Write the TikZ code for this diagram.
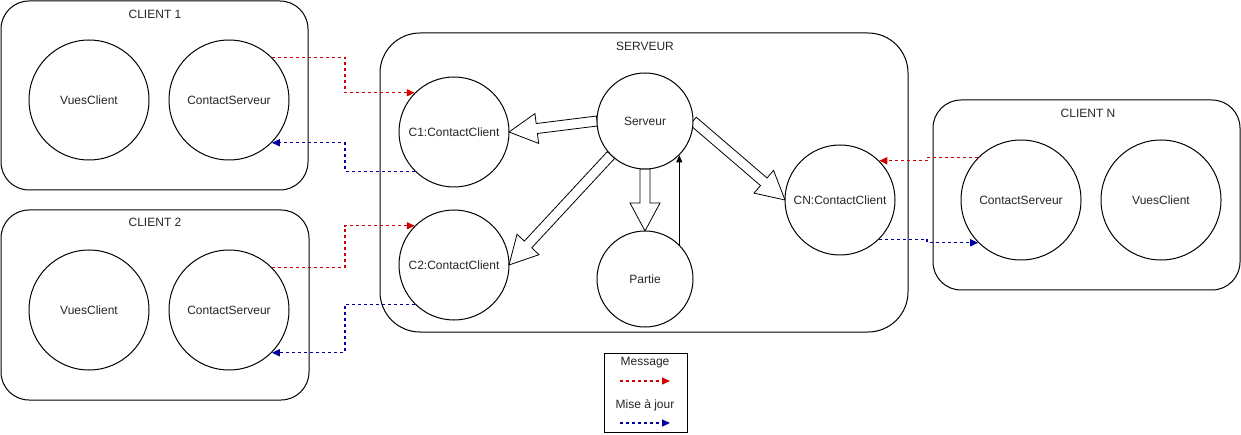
\documentclass[tikz,border=0pt]{standalone}
\usepackage{fontspec}
\setmainfont{Liberation Sans}
\usetikzlibrary{calc,arrows.meta}
\definecolor{msgred}{HTML}{D00000}
\definecolor{majblue}{HTML}{0000A0}
\tikzset{
  base/.style={font=\fontsize{12}{14}\selectfont, text=black!85},
  container/.style={draw=black, line width=1pt, fill=white, rectangle, inner sep=0pt},
  circ/.style={base, draw=black, line width=1pt, fill=white, circle, inner sep=0pt},
  bigc/.style={circ, minimum size=120pt},
  midc/.style={circ, minimum size=110pt},
  smallc/.style={circ, minimum size=96pt},
  title/.style={base, inner sep=0pt},
  fatarr/.style={draw=black, line width=0.8pt, fill=white, line join=miter},
  msg/.style={color=msgred, line width=1.4pt, dash pattern=on 3pt off 3pt, -{Triangle[length=8pt,width=7pt,sep=0pt]}},
  maj/.style={color=majblue, line width=1.4pt, dash pattern=on 3pt off 3pt, -{Triangle[length=8pt,width=7pt,sep=0pt]}},
}
\newcommand\fatarrow[2]{%
  \coordinate (fa-a) at (#1);
  \coordinate (fa-b) at (#2);
  \coordinate (fa-c) at ($(fa-b)!28pt!(fa-a)$);
  \draw[fatarr] ($(fa-a)!5pt!90:(fa-b)$) -- ($(fa-c)!5pt!90:(fa-b)$) -- ($(fa-c)!15pt!90:(fa-b)$)
    -- (fa-b) -- ($(fa-c)!15pt!-90:(fa-b)$) -- ($(fa-c)!5pt!-90:(fa-b)$) -- ($(fa-a)!5pt!-90:(fa-b)$) -- cycle;
}
\begin{document}
\begin{tikzpicture}[x=1pt,y=-1pt]
\useasboundingbox (0,0) rectangle (1241,435);
% containers
\node[container, rounded corners=28pt, minimum width=307pt, minimum height=189pt] (client1) at (154.5,95.5) {};
\node[container, rounded corners=28pt, minimum width=308pt, minimum height=190pt] (client2) at (155,305) {};
\node[container, rounded corners=40pt, minimum width=528pt, minimum height=299pt] (serveurbox) at (644,182.5) {};
\node[container, rounded corners=28pt, minimum width=307pt, minimum height=190pt] (clientN) at (1086.5,195) {};
\node[container, rounded corners=0pt, minimum width=83pt, minimum height=79pt] (legend) at (645.5,392.5) {};
% titles
\node[title] (t1) at (155,14) {CLIENT 1};
\node[title] (t2) at (155,222) {CLIENT 2};
\node[title] (ts) at (645,46) {SERVEUR};
\node[title] (tn) at (1088,113) {CLIENT N};
\node[title] (lmsg) at (645,363) {Message};
\node[title] (lmaj) at (645,405) {Mise à jour};
% circle centres
\coordinate (srvc) at (645,121);
\coordinate (c1c) at (454,132);
\coordinate (c2c) at (454,265);
\coordinate (cnc) at (840,200);
\coordinate (partc) at (645,279);
% fat arrows (drawn beneath the circles)
\fatarrow{$(srvc)+(-48,0)$}{$(c1c)+(55,0)$}
\fatarrow{$(srvc)+(-34,34)$}{$(c2c)+(55,0)$}
\fatarrow{$(srvc)+(0,48)$}{$(partc)+(0,-48)$}
\fatarrow{$(srvc)+(48,0)$}{$(cnc)+(-55,0)$}
% circles
\node[bigc] (vc1) at (89,100) {VuesClient};
\node[bigc] (cs1) at (229,100) {ContactServeur};
\node[bigc] (vc2) at (89,310) {VuesClient};
\node[bigc] (cs2) at (229,310) {ContactServeur};
\node[midc] (c1) at (c1c) {C1:ContactClient};
\node[midc] (c2) at (c2c) {C2:ContactClient};
\node[smallc] (srv) at (srvc) {Serveur};
\node[smallc] (partie) at (partc) {Partie};
\node[midc] (cn) at (cnc) {CN:ContactClient};
\node[bigc] (csn) at (1021,200) {ContactServeur};
\node[bigc] (vcn) at (1161,200) {VuesClient};
% thin arrow Partie -> Serveur
\draw[line width=1pt, -{Triangle[length=7pt,width=6pt]}] (partie.north east) -- (partie.north east |- srv.south east);
% dashed connectors
\coordinate (mx) at (345,0);
\coordinate (mxn) at (927,0);
\draw[msg] (cs1.north east) -- (cs1.north east -| mx) -- (mx |- c1.north west) -- (c1.north west);
\draw[maj] (c1.south west) -- (c1.south west -| mx) -- (mx |- cs1.south east) -- (cs1.south east);
\draw[msg] (cs2.north east) -- (cs2.north east -| mx) -- (mx |- c2.north west) -- (c2.north west);
\draw[maj] (c2.south west) -- (c2.south west -| mx) -- (mx |- cs2.south east) -- (cs2.south east);
\draw[msg] (csn.north west) -- (csn.north west -| mxn) -- (mxn |- cn.north east) -- (cn.north east);
\draw[maj] (cn.south east) -- (cn.south east -| mxn) -- (mxn |- csn.south west) -- (csn.south west);
% legend arrows
\coordinate (lr1) at (620,381);
\coordinate (lr2) at (670,381);
\coordinate (lb1) at (620,423);
\coordinate (lb2) at (670,423);
\draw[msg] (lr1) -- (lr2);
\draw[maj] (lb1) -- (lb2);
\end{tikzpicture}
\end{document}
